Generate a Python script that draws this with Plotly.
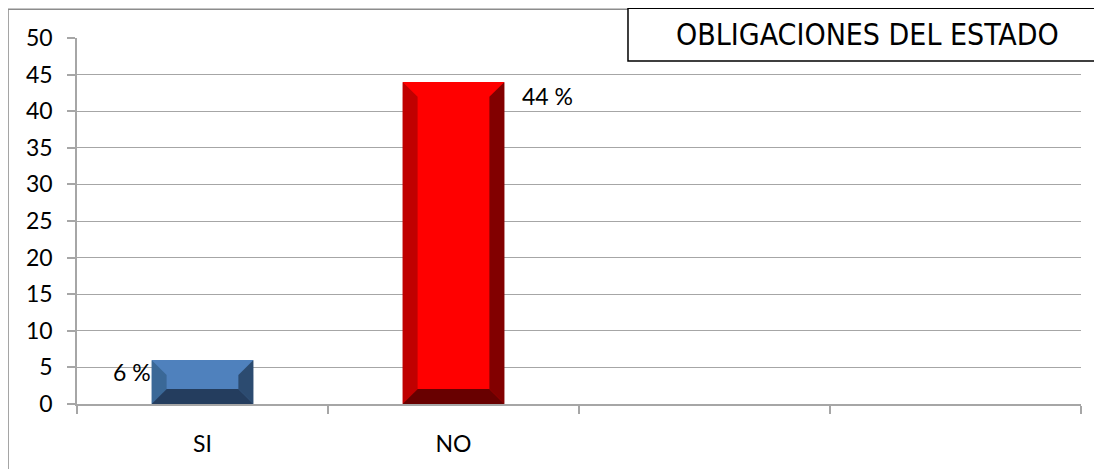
import plotly.graph_objects as go

# chart data
categories = ["SI", "NO", "", ""]
values = [6, 44]
value_labels = ["6 %", "44 %"]
title_text = "OBLIGACIONES DEL ESTADO"

# bevel shades per bar: face, left, right, bottom
face_colors = ["#4F81BD", "#FF0000"]
left_colors = ["#3A6897", "#C00000"]
right_colors = ["#2C4B70", "#820000"]
bottom_colors = ["#243D5E", "#680000"]

GRID = "#A6A6A6"
BAR_W = 0.406
BEVEL_X = 0.06
BEVEL_Y = 2.04

centers = [i + 0.5 for i in range(len(values))]

fig = go.Figure()
fig.add_trace(go.Bar(
    x=centers, y=values, width=BAR_W,
    marker=dict(color=face_colors, line=dict(width=0)),
    hoverinfo="skip", showlegend=False,
))

# bevel faces, built from each bar's value
for c, v, lc, rc, bc in zip(centers, values, left_colors, right_colors, bottom_colors):
    h = BAR_W / 2
    polys = [
        ([c - h, c - h, c - h + BEVEL_X, c - h + BEVEL_X, c - h],
         [0, v, v - BEVEL_Y, BEVEL_Y, 0], lc),
        ([c + h, c + h, c + h - BEVEL_X, c + h - BEVEL_X, c + h],
         [0, v, v - BEVEL_Y, BEVEL_Y, 0], rc),
        ([c - h, c + h, c + h - BEVEL_X, c - h + BEVEL_X, c - h],
         [0, 0, BEVEL_Y, BEVEL_Y, 0], bc),
    ]
    for px, py, col in polys:
        fig.add_trace(go.Scatter(
            x=px, y=py, mode="lines", fill="toself", fillcolor=col,
            line=dict(width=0, color=col), hoverinfo="skip", showlegend=False,
        ))

# value labels (6 % sits left of its bar, 44 % right of its bar)
label_side = ["left", "right"]
for c, v, t, side in zip(centers, values, value_labels, label_side):
    if side == "left":
        fig.add_annotation(x=c - BAR_W / 2, y=v - 1.6, text=t, showarrow=False,
                           xanchor="right", yanchor="middle", xshift=1)
    else:
        fig.add_annotation(x=c + BAR_W / 2, y=v - 1.9, text=t, showarrow=False,
                           xanchor="left", yanchor="middle", xshift=16)

# outer chart frame
fig.add_shape(type="rect", xref="paper", yref="paper",
              x0=-0.0687, y0=-0.3, x1=1.2, y1=1.0788,
              line=dict(color="#8C8C8C", width=1.5), fillcolor="rgba(0,0,0,0)",
              layer="below")
# title box
fig.add_shape(type="rect", xref="paper", yref="paper",
              x0=0.5488, y0=0.9375, x1=1.0190, y1=1.0815,
              line=dict(color="black", width=1.5), fillcolor="white", layer="above")
fig.add_annotation(xref="paper", yref="paper", x=0.787, y=1.009,
                   text=title_text, showarrow=False, xanchor="center", yanchor="middle",
                   font=dict(family="DejaVu Sans Condensed, Liberation Sans Narrow, Arial Narrow",
                             size=30, color="black"))

# page body has an 8px margin, so the figure is trimmed by that much
fig.update_layout(
    width=1094, height=461,
    margin=dict(l=69, r=21, t=30, b=63),
    plot_bgcolor="white", paper_bgcolor="white",
    font=dict(family="Lato, Carlito, Calibri, sans-serif", size=23, color="black"),
    showlegend=False,
    bargap=0,
    xaxis=dict(
        range=[0, 4], tickmode="array",
        tickvals=[i + 0.5 for i in range(len(categories))], ticktext=categories,
        ticks="", showgrid=False, zeroline=False,
        showline=True, linecolor=GRID, linewidth=1.5,
        ticklabelstandoff=19,
        minor=dict(tickmode="linear", tick0=0, dtick=1, ticks="outside",
                   ticklen=8, tickcolor=GRID, tickwidth=1.5, showgrid=False),
    ),
    yaxis=dict(
        range=[0, 50], dtick=5, tick0=0,
        showgrid=True, gridcolor=GRID, gridwidth=1,
        zeroline=False, showline=True, linecolor=GRID, linewidth=1.5,
        ticks="outside", ticklen=8, tickcolor=GRID, tickwidth=1.5,
        ticklabelstandoff=10,
    ),
)

fig.write_html("out.html")
